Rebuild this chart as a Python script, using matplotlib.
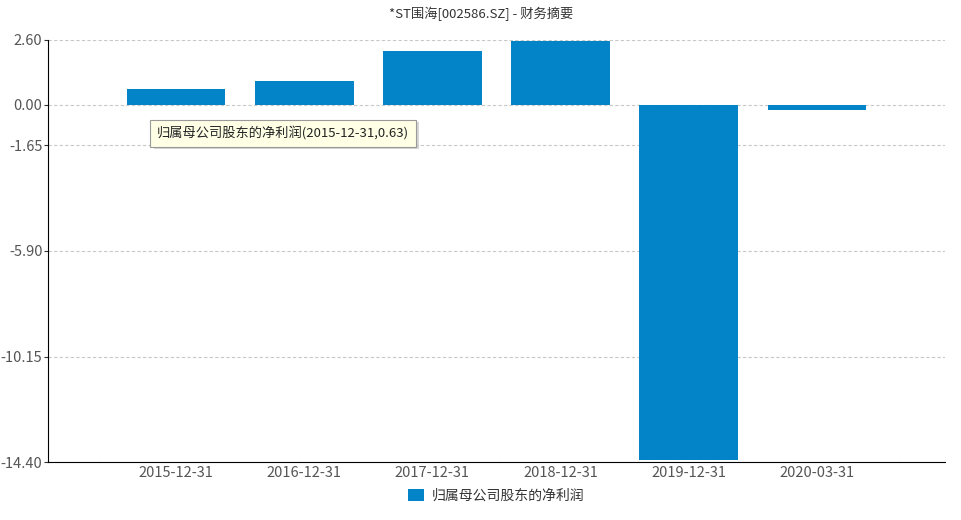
import numpy as np
import matplotlib
matplotlib.use('Agg')
import matplotlib.pyplot as plt

plt.rcParams['font.family'] = ['Noto Sans CJK SC', 'DejaVu Sans']

# data
dates = ['2015-12-31', '2016-12-31', '2017-12-31', '2018-12-31', '2019-12-31', '2020-03-31']
net_profit = [0.63, 0.93, 2.14, 2.55, -14.30, -0.20]
y_ticks = [2.60, 0.00, -1.65, -5.90, -10.15, -14.40]
series_name = '归属母公司股东的净利润'
title = '*ST围海[002586.SZ] - 财务摘要'

bar_color = '#0384c9'

fig = plt.figure(figsize=(9.62, 5.2), dpi=100)
ax = fig.add_axes([48 / 962, 1 - 462 / 520, 897 / 962, 422 / 520])

x = np.arange(len(dates))
ax.bar(x, net_profit, width=0.77, color=bar_color, zorder=3, label=series_name)

ax.set_xlim(-1, 6)
ax.set_ylim(-14.40, 2.60)
ax.set_yticks(y_ticks)
ax.set_yticklabels([f'{v:.2f}' for v in y_ticks])
ax.set_xticks(x)
ax.set_xticklabels(dates)
ax.tick_params(axis='both', colors='#555555', labelsize=10.5, length=0, pad=3)
ax.tick_params(axis='y', length=3, color='#333333', pad=1)

ax.grid(axis='y', linestyle=(0, (3, 2)), color='#c8c8c8', linewidth=0.8, zorder=0)
for s in ['top', 'right']:
    ax.spines[s].set_visible(False)
ax.spines['left'].set_color('#000000')
ax.spines['bottom'].set_color('#000000')

fig.text(0.5, 1 - 14 / 520, title, ha='center', va='center', fontsize=9.5, color='#333333')

# tooltip with a soft shadow
tip = f'{series_name}({dates[0]},{net_profit[0]:.2f})'
ax.annotate(tip, xy=(0, 0), xycoords='data', xytext=(-0.12, -1.25), textcoords='data',
            fontsize=9.5, color='#ffffff', va='center', ha='left', zorder=5, alpha=0,
            bbox=dict(boxstyle='square,pad=0.5', fc='#bbbbbb', ec='none', alpha=0.6))
ax.annotate(tip, xy=(0, 0), xycoords='data', xytext=(-0.15, -1.17), textcoords='data',
            fontsize=9.5, color='#222222', va='center', ha='left', zorder=6,
            bbox=dict(boxstyle='square,pad=0.5', fc='#ffffe6', ec='#999999', lw=0.8))

leg = fig.legend(loc='center', bbox_to_anchor=(0.516, 1 - 496 / 520), frameon=False,
                 fontsize=10, handlelength=1.1, handleheight=0.9, handletextpad=0.6)
for t in leg.get_texts():
    t.set_color('#333333')

fig.savefig('out.png', dpi=100)
